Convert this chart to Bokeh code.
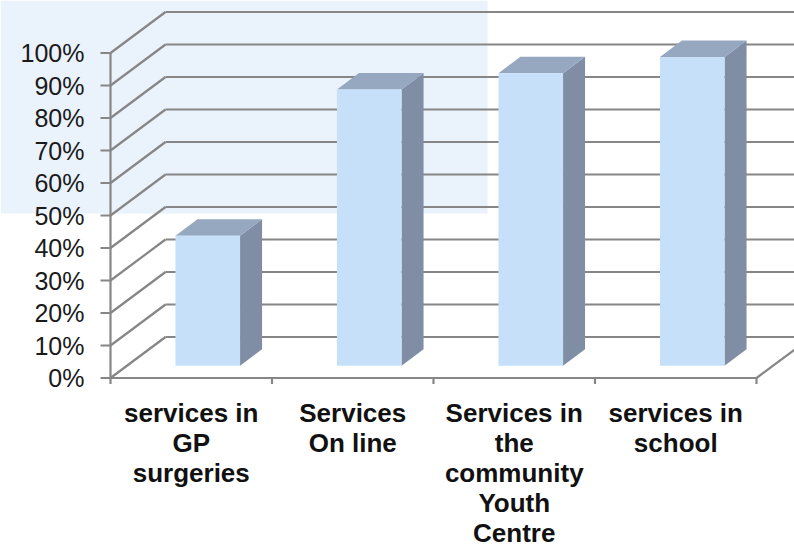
from bokeh.plotting import figure
from bokeh.models import Range1d
from bokeh.core.properties import value
from bokeh.embed import file_html
from bokeh.resources import INLINE

# ---- data ----
categories = [
    "services in\nGP\nsurgeries",
    "Services\nOn line",
    "Services in\nthe\ncommunity\nYouth\nCentre",
    "services in\nschool",
]
values = [40, 85, 90, 95]
y_ticks = [0, 10, 20, 30, 40, 50, 60, 70, 80, 90, 100]
y_tick_labels = [f"{t}%" for t in y_ticks]

# ---- geometry (pixels -> data scale) ----
W, H = 794, 544
ORIGIN_X_PX = 110.0   # left edge of category axis
CAT_PX = 161.5        # width of one category
ZERO_Y_PX = 377.5     # 0% line (from top)
PCT_PX = 3.25         # pixels per percent
DX = 55.0 / CAT_PX    # depth offset (category units)
DY = 41.0 / PCT_PX    # depth offset (percent units)
BAR_W = 0.4
F_FRONT, F_BACK = 0.3, 0.7

FONT = value("Liberation Sans")
GRID = "#868686"
FRONT = "#C6E0FA"
SIDE = "#7F8EA4"
TOP = "#95A8BF"
BG = "#EAF2FC"

n = len(categories)
x0, x1 = -ORIGIN_X_PX / CAT_PX, (W - ORIGIN_X_PX) / CAT_PX
y0, y1 = -(H - ZERO_Y_PX) / PCT_PX, ZERO_Y_PX / PCT_PX

p = figure(width=W, height=H, x_range=Range1d(x0, x1), y_range=Range1d(y0, y1),
           output_backend="svg", toolbar_location=None,
           x_axis_location=None, y_axis_location=None, min_border=0,
           outline_line_color=None, background_fill_color="white",
           border_fill_color="white")
p.grid.visible = False

# light slide-background panel at the top-left
p.quad(left=[x0], right=[x0 + 487.0 / CAT_PX], bottom=[y1 - 213.0 / PCT_PX], top=[y1],
       fill_color=BG, line_color=None)

# walls: diagonal lines on the left wall and horizontal lines on the back wall
p.segment(x0=[0] * len(y_ticks), y0=y_ticks, x1=[DX] * len(y_ticks),
          y1=[t + DY for t in y_ticks], line_color=GRID, line_width=2.2)
p.segment(x0=[DX] * len(y_ticks), y0=[t + DY for t in y_ticks],
          x1=[n + DX] * len(y_ticks), y1=[t + DY for t in y_ticks],
          line_color=GRID, line_width=2.2)
# right floor edge
p.segment(x0=[n], y0=[0], x1=[n + DX], y1=[DY], line_color=GRID, line_width=2.2)

# y axis line + ticks
p.segment(x0=[0], y0=[0], x1=[0], y1=[max(y_ticks)], line_color=GRID, line_width=2.2)
p.segment(x0=[-10.0 / CAT_PX] * len(y_ticks), y0=y_ticks, x1=[0] * len(y_ticks),
          y1=y_ticks, line_color=GRID, line_width=2.2)
# x axis line + ticks
p.segment(x0=[0], y0=[0], x1=[n], y1=[0], line_color=GRID, line_width=2.2)
p.segment(x0=list(range(n + 1)), y0=[0] * (n + 1), x1=list(range(n + 1)),
          y1=[-6.0 / PCT_PX] * (n + 1), line_color=GRID, line_width=2.2)

# y tick labels
p.text(x=[-26.0 / CAT_PX] * len(y_ticks), y=y_ticks, text=y_tick_labels,
       text_font=FONT, text_font_size="25px", text_align="right",
       text_baseline="middle", text_color="#1a1a1a")

# 3D bars
ddx, ddy = (F_BACK - F_FRONT) * DX, (F_BACK - F_FRONT) * DY
lefts = [i + (1 - BAR_W) / 2 + F_FRONT * DX for i in range(n)]
rights = [l + BAR_W for l in lefts]
bots = [F_FRONT * DY] * n
tops = [v + F_FRONT * DY for v in values]

side_xs = [[r, r + ddx, r + ddx, r] for r in rights]
side_ys = [[b, b + ddy, t + ddy, t] for b, t in zip(bots, tops)]
p.patches(side_xs, side_ys, fill_color=SIDE, line_color=None)
top_xs = [[l, r, r + ddx, l + ddx] for l, r in zip(lefts, rights)]
top_ys = [[t, t, t + ddy, t + ddy] for t in tops]
p.patches(top_xs, top_ys, fill_color=TOP, line_color=None)
p.quad(left=lefts, right=rights, bottom=bots, top=tops, fill_color=FRONT, line_color=None)

# category labels
p.text(x=[i + 0.5 for i in range(n)], y=[-20.0 / PCT_PX] * n, text=categories,
       text_font=FONT, text_font_size="26px", text_font_style="bold",
       text_align="center", text_baseline="top", text_line_height=1.0,
       text_color="#111111")

open("out.html", "w").write(file_html(p, INLINE))
